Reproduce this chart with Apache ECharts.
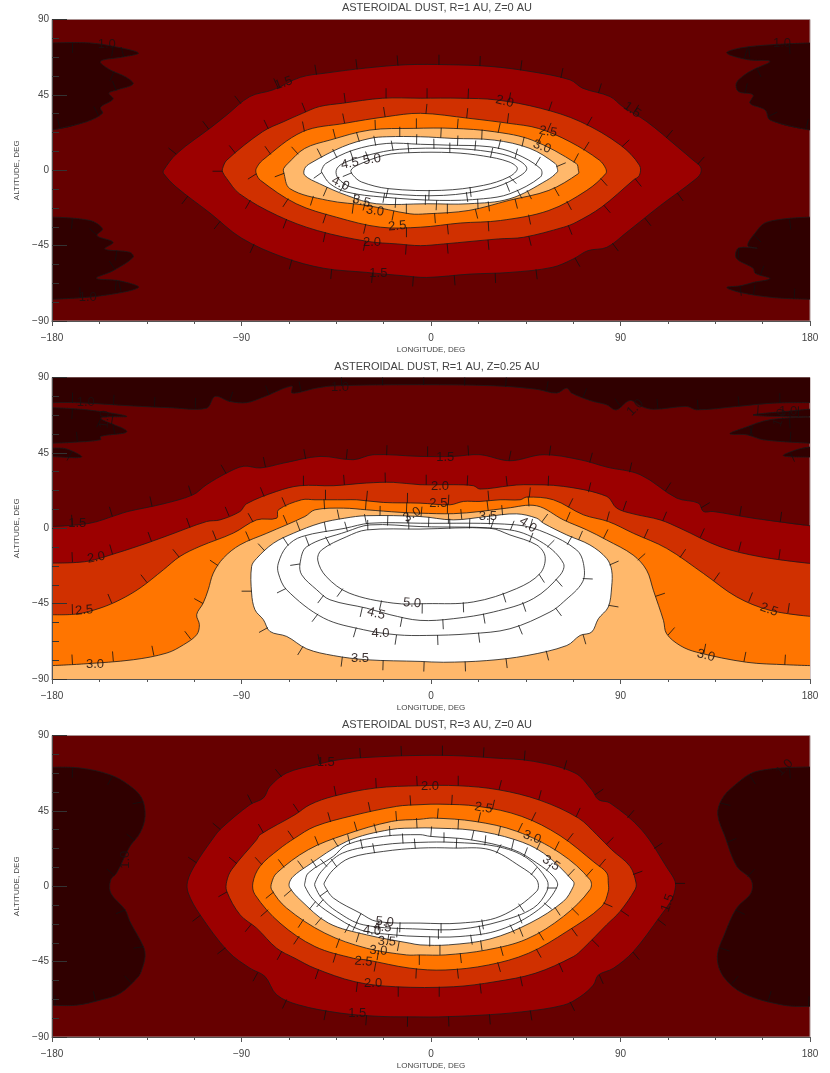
<!DOCTYPE html>
<html>
<head>
<meta charset="utf-8">
<title>Asteroidal dust</title>
<script src="https://cdn.jsdelivr.net/npm/echarts@6/dist/echarts.min.js"></script>
<style>
	html, body { margin: 0; padding: 0; background: #fff; }
	#chart { width: 830px; height: 1073px; }
</style>
</head>
<body>
<div id="chart"></div>
<script>
var lonTicks = [-180, -90, 0, 90, 180];
var altTicks = [-90, -45, 0, 45, 90];
var titles = ['ASTEROIDAL DUST, R=1 AU, Z=0 AU', 'ASTEROIDAL DUST, R=1 AU, Z=0.25 AU', 'ASTEROIDAL DUST, R=3 AU, Z=0 AU'];

// panel 1, contours as [lon, alt]
var p1Dark1 = [[-180,76],[-162,76],[-149,73.5],[-139,70],[-146,67.7],[-157,65],[-152.5,60],[-145,55.7],[-141.5,51.5],[-149,48],[-153,46],[-151,42.5],[-157,37.5],[-156,34],[-163.5,29],[-180,24]];
var p1Dark2 = [[-180,-28],[-162,-30],[-156,-35],[-158.7,-39],[-151,-43],[-155,-47],[-143,-49],[-141.5,-52],[-151,-60],[-159,-64.5],[-148,-66],[-139,-70],[-157,-75],[-180,-77]];
var p1Dark3 = [[180,76],[162.5,75],[147,73],[140.5,70],[150.5,66],[161,65],[153,60],[149,57],[145,52],[146,47],[153,45],[151.5,40],[158.7,36],[161,30],[180,24]];
var p1Dark4 = [[180,-28],[159.5,-31],[153,-39],[150.5,-45],[155,-46.5],[146,-46.5],[145,-52.5],[153,-58.5],[154,-61.5],[161,-64.7],[153,-67],[147,-69],[140.5,-70],[147,-73],[162.5,-76],[180,-77]];
var p1L15 = [[-127,0],[-120.7,10],[-104,26],[-97,33],[-86,44],[-75,48],[-62,55.5],[-50,58],[-31,61],[-11.5,63],[8,63],[28,62],[47,59],[66,54],[72,49],[85,44],[91,38],[102.5,29],[117,14],[124.5,6],[128,2],[128,-2],[125,-6],[109,-21],[99,-31],[93,-37],[83.5,-46],[74.5,-48],[67.5,-53],[57.5,-58],[37.5,-61],[18.5,-62],[-2,-64],[-13,-63],[-30.5,-61],[-51,-58.5],[-70,-52],[-90,-40.5],[-105,-25.5],[-121,-10],[-127,-2]];
var p1L20 = [[-99,1],[-97,6],[-80,23],[-70,29],[-61,34],[-53,38],[-42,40],[-23,43],[-5,43],[14,43],[31,42],[52,37],[71,29],[90,15],[99,3],[99,-3],[96,-6],[81,-22],[69,-31],[63,-34],[44,-40],[32,-41],[6,-44],[-5,-45],[-16,-44],[-30,-42.5],[-54,-36],[-73,-27],[-91,-14],[-97,-5],[-99,-1]];
var p1L25 = [[-83,1],[-80,6],[-61,23],[-41,28],[-21,32],[-5,34],[18,31],[37,28],[51,25],[66,17],[80,6],[83,1],[83,-2],[74,-12],[56,-24],[33,-30],[14,-31.5],[-5,-34],[-24,-34],[-45,-28],[-64,-20],[-81,-6],[-83,-2]];
var p1L30 = [[-70,1],[-68,4],[-60,13],[-48,18],[-29,24],[-8.5,25],[10.5,25],[30,23],[48,18],[69,4],[70,0],[70,-2],[56,-12],[37,-18],[18,-24],[-2,-26],[-10,-26],[-30.5,-21],[-49,-18],[-67,-11],[-70,-1]];
var p1L35 = [[-60,1],[-57.5,4],[-42,14],[-29,19],[-21,20],[-5,20],[10.5,19],[30,18],[47,13],[59,4],[60,1],[60,-1],[55,-6],[37.5,-17],[18,-20],[-2,-20],[-26,-20],[-40,-15],[-53,-8],[-60,-3]];
var p1L40 = [[-52,0],[-50,4],[-37,12],[-21,16],[-5,15.5],[8,15],[28,14],[40,10],[52,1],[52,-4],[37.5,-14],[25,-17],[4,-18],[-23,-16],[-40,-13],[-48,-8],[-52,-1]];
var p1L45 = [[-45,0],[-42,4],[-30,9],[-15,12.5],[10,13],[28,11],[40,7],[45.5,1],[40,-5],[28,-11],[6,-15],[-20,-14],[-38,-10],[-44,-5]];
var p1L50 = [[-38,0],[-35,3],[-22,9],[-10,10.5],[10,10.5],[25,8.5],[37,5],[41,1],[37,-4],[25,-9],[5,-12],[-20,-11],[-33,-7],[-37,-3]];
var p1Labels = [[-154,75,'1.0',0],[-70,52,'1.5',20],[-38.5,4,'4.5',10],[-28,6.5,'5.0',8],[95.5,36,'1.5',-35],[35,41,'2.0',-15],[55.6,23,'2.5',-10],[52.7,14,'3.0',-20],[166.7,76,'1.0',0],[-43,-8,'4.0',-25],[-33,-18.5,'3.5',-15],[-26.6,-24.3,'3.0',-8],[-16,-33.4,'2.5',5],[-28,-43.3,'2.0',0],[-25,-61.5,'1.5',0],[-163,-76,'1.0',0]];

// panel 2
var p2Top = [[-180,75],[-168.3,75],[-141.4,73],[-124,72],[-106.6,71.7],[-102.6,78.7],[-95.5,75.7],[-87.6,75],[-79.6,78.3],[-66,85],[-66,80.7],[-54.3,83.7],[-46.4,85],[-5.2,85.7],[31,85],[50,83],[59.7,80.7],[64.5,83.7],[66.8,80.7],[75.5,76.3],[83.4,73.7],[88,70.7],[94.5,76.3],[100,72.7],[105.6,71],[121.4,72.7],[126.2,70.7],[145.2,72.7],[162.6,74.7],[180,75]];
var p2Band1 = [[-180,72],[-163.5,70.7],[-144.5,66.8],[-157,65.8],[-144.5,57.8],[-157,54.8],[-157,52.8],[-171.5,51.2],[-180,50.8]];
var p2Band2 = [[-180,47.8],[-173,47.3],[-166,42.5],[-180,42.9]];
var p2Band3 = [[180,71.1],[168.9,69.8],[153,67.7],[162.6,66.8],[180,66.8]];
var p2Band4 = [[180,66.3],[161,64.8],[148.4,59.8],[142,56.4],[150,55.8],[157.9,52.8],[180,50.8]];
var p2Band5 = [[180,48.5],[173.7,46.9],[167.4,43.3],[180,42.5]];
var p2L15 = [[-180,1],[-162,3],[-149,8],[-144,10],[-127,14.6],[-113,20],[-106.6,26],[-97,33],[-89,37],[-81,36],[-70,38.9],[-52.7,42.9],[-37,40.9],[-27.4,43.9],[-5.2,42.9],[10.6,42.9],[23.3,43.9],[37.5,40.3],[53.4,43.9],[70.8,40.9],[83.5,36.5],[99.3,32],[116.7,18],[127,15],[129.4,10],[134,10],[153,6],[180,1.5]];
var p2L20 = [[-180,-20.8],[-163.5,-19.8],[-149.3,-14.8],[-135,-8.9],[-124,-3.9],[-106.6,4],[-100.2,5],[-90.7,10],[-87.6,14.6],[-73.3,22],[-62.2,25.4],[-46.4,25.4],[-30.6,27],[-17.9,27.4],[-5.2,26],[10.6,26],[20.1,25.4],[23.3,23.4],[37.5,25.4],[43.9,26],[62.9,25],[83.5,19],[88.2,12],[96,8.6],[108.8,5],[118.3,0],[137.3,-11],[156.3,-17],[180,-21]];
var p2L25 = [[-180,-51.6],[-168.3,-51.2],[-157.2,-47.7],[-147.7,-42.7],[-138.2,-35.7],[-127.1,-24.8],[-119.2,-16.8],[-109.7,-10.8],[-93.9,-2.9],[-82.8,5],[-73.3,6],[-72.5,11],[-61.4,17],[-55.1,17],[-40.8,17],[-35.3,17],[-22.6,15.4],[-5.2,15],[9,14],[15.4,16],[23.3,16],[32.8,17],[42.3,17],[45.5,18.6],[58.1,17],[72.4,8],[84.2,4],[96.1,-3],[111.9,-12],[129.4,-27],[145.2,-41],[161,-49],[180,-52.6]];
var p2L30 = [[-180,-82],[-165,-81],[-141.4,-78.5],[-125.5,-74.5],[-117.6,-69.6],[-111.3,-63.6],[-110,-57.6],[-111.3,-51.6],[-108.2,-44.7],[-105.8,-36.7],[-103.4,-26.8],[-98.6,-17.8],[-90.7,-9.9],[-78,-3],[-59.9,7],[-55.1,11],[-41.6,12],[-30.6,11],[-14.7,9.5],[-5.2,9],[10.6,8.7],[23.3,10],[36,12],[50.2,13.4],[62.9,5],[74,-1],[83.4,-7],[96,-16],[102.4,-25],[105.6,-37],[110.4,-55],[111.9,-63],[118.3,-70],[126.2,-74],[149.9,-80],[168.9,-81.5],[180,-82]];
var p2L35 = [[-85.2,-22.8],[-82.8,-18],[-74.9,-9],[-65.4,-3],[-52.7,3],[-41,6],[-30.6,7.5],[-5.2,7],[10.6,5],[26.5,7],[40.7,8.6],[50.2,6],[53.4,3],[64.5,-4],[75.5,-10],[83.4,-18],[85.8,-25],[85.8,-35],[84.2,-47],[79.5,-54],[76.3,-62],[70.8,-64],[64.5,-70],[45.5,-76],[26.5,-79],[5.9,-80],[-5.2,-79.5],[-30.6,-78.5],[-46.4,-76],[-59,-72],[-68.5,-64.6],[-76.5,-61.6],[-79.6,-54.6],[-83.6,-48.7],[-85.2,-38.7]];
var p2L40 = [[-72.5,-20.8],[-68.6,-11],[-61.4,-5],[-40.8,0],[-29,3],[-5,3],[40.7,2],[55,-3],[69.2,-13],[72.4,-21],[72,-32],[62.9,-44],[56.5,-50],[37.5,-60],[18.5,-63],[-2,-64],[-16.3,-63.6],[-32,-60.6],[-51,-53.6],[-68.6,-36.7],[-72.5,-26.8]];
var p2L45 = [[-62.2,-21],[-59,-11],[-40,-2],[-29,2],[-5.2,1],[37.5,-1],[53.4,-9],[62.9,-21],[61.3,-28],[48.6,-42],[29.6,-50],[10.6,-54],[-5.2,-55],[-19.5,-51.6],[-30.6,-47.7],[-48,-42.7],[-54.3,-36.7],[-61.4,-27.8]];
var p2L50 = [[-53.8,-19],[-52,-13],[-40,-5],[-30.6,-1],[-5.2,-0.5],[28,0],[37.5,-4],[50.2,-10],[54.2,-17],[51.8,-27],[40.7,-36],[20.1,-44],[-2,-45],[-18,-44.7],[-38.9,-38.7],[-49.8,-28.8]];
var p2Labels = [[-164,75,'1.0',0],[-155,65,'1.0',85],[-43.2,83.8,'1.0',0],[97,72,'1.0',45],[169.6,69.5,'1.0',0],[165.8,66,'1.0',70],[-168,2.7,'1.5',0],[6.8,42,'1.5',0],[4.3,25,'2.0',0],[-159,-17.5,'2.0',10],[3.5,14.6,'2.5',0],[-164.7,-49,'2.5',5],[160.5,-48.7,'2.5',-20],[-9,8,'3.0',30],[-159.6,-81,'3.0',0],[130.6,-76,'3.0',-15],[27,7,'3.5',0],[-33.7,-77.5,'3.5',0],[46,2,'4.0',-35],[-24,-62.6,'4.0',0],[-26,-51,'4.5',-15],[-9,-44.7,'5.0',-5]];

// panel 3
var p3Dark1 = [[-180,71],[-166.7,70.6],[-152.5,66.6],[-143.7,60.6],[-137.4,52.7],[-135.8,41.7],[-138.2,31.8],[-143,23.8],[-149.3,7.9],[-152.1,3.9],[-152.1,-4],[-145.3,-14],[-143,-21],[-136.6,-36],[-135.8,-42],[-137.4,-50],[-139,-54],[-147.7,-64],[-157.2,-68],[-168.3,-71],[-180,-71]];
var p3Dark2 = [[180,71.2],[154.7,68.6],[143.6,59.6],[138,51.7],[136.2,42.7],[139.6,29.8],[145.2,11.9],[152,3.9],[152,-4],[145.2,-13],[139.6,-28],[136,-42],[138.9,-54],[148.4,-64],[167.4,-71],[180,-71.7]];
var p3L15 = [[-115.6,3],[-112,12.9],[-103.4,28.8],[-99.4,34.8],[-86,48.7],[-79.6,52.7],[-76.5,59.6],[-68.6,67.6],[-54.3,72.6],[-43.2,75.6],[-29,77],[-10,78],[10.6,78],[29.6,76.6],[48.6,74.6],[68.4,67.6],[76.3,57.6],[79.5,51.7],[85,49.7],[100,33.7],[112.7,9.9],[115.9,3],[115.9,-2],[114.3,-8],[108.8,-18],[96.1,-39],[86.6,-49],[79.5,-53],[77.1,-59],[70.8,-66],[62.9,-71],[43.1,-75],[23.3,-77],[3.5,-78],[-5.2,-78],[-24.2,-77.7],[-43.2,-75.7],[-63,-70.8],[-73.3,-64.8],[-78.9,-53.8],[-86,-48.9],[-96.3,-39],[-109.7,-17],[-115.3,-4]];
var p3L20 = [[-97,3],[-94.7,9.9],[-82.8,27.8],[-81.2,30.8],[-64.6,42.7],[-57.5,48.7],[-46.4,53.7],[-26.6,58.6],[-5.2,60],[13,60],[32,57.6],[51.8,51.3],[70,40.7],[78.7,30.8],[85.8,21.8],[94.5,11.9],[97.4,1.9],[96.9,-2],[89.8,-15],[83.4,-23],[72.4,-37],[67.6,-42],[49.4,-52],[30.4,-57],[10.6,-60],[-16.8,-60],[-36.1,-57],[-55.1,-49],[-64.6,-43],[-73.3,-37],[-82.8,-25],[-90.7,-17],[-97,-3]];
var p3L25 = [[-84.6,2],[-81.2,11.9],[-72.5,21.8],[-64.6,28.8],[-55.1,35.7],[-37.7,42],[-16.3,47.7],[-5.2,48.7],[4.3,49],[22.5,47.7],[43.1,41.7],[61.3,30.2],[77.9,13.9],[83.5,7.9],[84.2,1.9],[84.2,-3],[81.1,-12],[64.5,-27],[46.3,-40],[27.3,-47],[6.7,-50],[-10,-48.9],[-30.6,-44],[-36.9,-43],[-55.1,-36],[-71.7,-22],[-83.6,-5]];
var p3L30 = [[-75.7,2],[-73.3,7.9],[-58.3,21.8],[-40.8,30.8],[-18.7,38.7],[-5.2,40],[1.1,40.7],[20.9,38.7],[40.7,32.8],[61.3,19.8],[75.5,3.9],[75.5,-2],[62.9,-18],[45.5,-31.5],[26.5,-38],[6.7,-41],[-5.2,-41],[-11.6,-41],[-30.6,-37],[-50.4,-28],[-68.6,-13],[-75.7,-2]];
var p3L35 = [[-67.3,2],[-65.4,5.9],[-59,11.9],[-40,26.8],[-19.5,33.8],[-5.2,34.8],[-0.5,34.8],[20,33.4],[39.9,27.8],[53.4,19.8],[67.6,2.9],[67.6,-0.1],[62.9,-9],[47,-22],[28,-31.5],[8.3,-35],[-5.2,-35],[-10,-34],[-30.6,-29],[-48.7,-22],[-62.2,-8],[-67,-1]];
var p3L40 = [[-59.9,2],[-58.3,7.9],[-46.4,17.8],[-40,24.8],[-22.6,29.8],[-5.2,30.8],[-0.5,29.8],[18.5,27.8],[39.1,21.8],[50.2,13.9],[58.1,5.9],[60,0],[51,-14],[32.8,-26],[13.8,-30],[-5.2,-30],[-17.9,-29],[-33.7,-26],[-48,-16],[-55.9,-8],[-59.9,0]];
var p3L45 = [[-55.1,2],[-52,8.9],[-42,19.8],[-22.6,24.8],[-5.2,26.2],[10.6,26.2],[31.2,23.8],[45.5,16.9],[55,3.9],[55,-3],[48.6,-13],[32.8,-21],[13.8,-25.6],[-5.2,-25.6],[-32.2,-23],[-44.8,-15],[-52,-7],[-55.1,0]];
var p3L50 = [[-50.7,2],[-46.4,9.9],[-38.5,16.9],[-22.6,20.8],[-5.2,22.8],[10.6,22.8],[28,21.8],[42.3,11.9],[50.2,3.9],[50.2,-3],[32.8,-18],[13.8,-22],[-5.2,-22],[-25.8,-21],[-33.7,-16],[-46.4,-7],[-50.4,0]];
var p3Labels = [[-145,15.8,'1.0',90],[-50,74,'1.5',0],[-0.5,59.6,'2.0',0],[25,46.7,'2.5',-10],[48,29.3,'3.0',-20],[57,13.8,'3.5',-35],[168,70.8,'1.0',45],[112.5,-10,'1.5',70],[-22,-21.4,'5.0',-5],[-28,-26.6,'4.0',-5],[-23,-24.5,'4.5',-5],[-21,-33,'3.5',-3],[-25,-38.5,'3.0',-3],[-32,-45,'2.5',-5],[-27.5,-58,'2.0',0],[-35,-76,'1.5',0]];

var levelFill = { '1.0': '#300000', '1.5': '#9c0000', '2.0': '#d03000', '2.5': '#ff7500', '3.0': '#ffb86b', '3.5': '#ffffff' };

// level, points, how the line ends: 'loop' closes on itself, 'top' / 'bottom' fill to that edge, 'edge' fills across the side
var panels = [
	{ top: 19.5, base: '#660000', labels: p1Labels, contours: [
		['1.0', p1Dark1, 'edge'], ['1.0', p1Dark2, 'edge'], ['1.0', p1Dark3, 'edge'], ['1.0', p1Dark4, 'edge'],
		['1.5', p1L15, 'loop'], ['2.0', p1L20, 'loop'], ['2.5', p1L25, 'loop'], ['3.0', p1L30, 'loop'],
		['3.5', p1L35, 'loop'], ['4.0', p1L40, 'loop'], ['4.5', p1L45, 'loop'], ['5.0', p1L50, 'loop']
	] },
	{ top: 377.5, base: '#660000', labels: p2Labels, contours: [
		['1.0', p2Top, 'top'], ['1.0', p2Band1, 'edge'], ['1.0', p2Band2, 'edge'], ['1.0', p2Band3, 'edge'], ['1.0', p2Band4, 'edge'], ['1.0', p2Band5, 'edge'],
		['1.5', p2L15, 'bottom'], ['2.0', p2L20, 'bottom'], ['2.5', p2L25, 'bottom'], ['3.0', p2L30, 'bottom'],
		['3.5', p2L35, 'loop'], ['4.0', p2L40, 'loop'], ['4.5', p2L45, 'loop'], ['5.0', p2L50, 'loop']
	] },
	{ top: 735.5, base: '#660000', labels: p3Labels, contours: [
		['1.0', p3Dark1, 'edge'], ['1.0', p3Dark2, 'edge'],
		['1.5', p3L15, 'loop'], ['2.0', p3L20, 'loop'], ['2.5', p3L25, 'loop'], ['3.0', p3L30, 'loop'],
		['3.5', p3L35, 'loop'], ['4.0', p3L40, 'loop'], ['4.5', p3L45, 'loop'], ['5.0', p3L50, 'loop']
	] }
];

var tickGap = 41, tickLen = 10, smoothing = 0.35;

// downhill ticks along a contour, measured on screen
function contourTicks(pts, closedPts, level) {
	var area = 0, i;
	for (i = 0; i < closedPts.length; i++) {
		var a = closedPts[i], b = closedPts[(i + 1) % closedPts.length];
		area += a[0] * b[1] - b[0] * a[1];
	}
	var sign = area > 0 ? 1 : -1;
	if (level == '1.0') sign = -sign;
	var out = [], run = tickGap / 2;
	for (i = 0; i < pts.length - 1; i++) {
		var p = pts[i], q = pts[i + 1];
		var dx = q[0] - p[0], dy = q[1] - p[1];
		var len = Math.sqrt(dx * dx + dy * dy);
		if (!len) continue;
		while (run <= len) {
			var x = p[0] + dx * run / len, y = p[1] + dy * run / len;
			out.push({
				type: 'line',
				silent: true,
				shape: { x1: x, y1: y, x2: x + sign * dy / len * tickLen, y2: y - sign * dx / len * tickLen },
				style: { stroke: '#111', lineWidth: 0.8 }
			});
			run += tickGap;
		}
		run -= len;
	}
	return out;
}

function contourSeries(panel, idx) {
	return {
		type: 'custom',
		xAxisIndex: idx,
		yAxisIndex: idx,
		coordinateSystem: 'cartesian2d',
		clip: true,
		silent: true,
		z: 2,
		data: panel.contours.map(function(c) { return c[1][0]; }),
		renderItem: function(params, api) {
			var c = panel.contours[params.dataIndex];
			var line = c[1].map(function(d) { return api.coord(d); });
			var children = [];
			var fill = levelFill[c[0]];
			var stroked = line;
			var fillPts = line;
			if (c[2] == 'loop') {
				stroked = line.concat([line[0]]);
				children.push({ type: 'polygon', silent: true, shape: { points: line, smooth: smoothing }, style: { fill: fill || null, stroke: '#1a1a1a', lineWidth: 0.8 } });
			} else {
				// run the fill past the frame, the clip cuts it square
				var first = c[1][0], last = c[1][c[1].length - 1];
				var edgeAlt = c[2] == 'top' ? 110 : -110;
				fillPts = [api.coord([first[0] * 1.12, first[1]])].concat(line, [api.coord([last[0] * 1.12, last[1]])]);
				if (c[2] != 'edge') {
					fillPts.push(api.coord([200, edgeAlt]), api.coord([-200, edgeAlt]));
				}
				children.push({ type: 'polygon', silent: true, shape: { points: fillPts, smooth: smoothing }, style: { fill: fill } });
				children.push({ type: 'polyline', silent: true, shape: { points: line, smooth: smoothing }, style: { fill: null, stroke: '#1a1a1a', lineWidth: 0.8 } });
			}
			return { type: 'group', children: children.concat(contourTicks(stroked, fillPts, c[0])) };
		}
	};
}

function labelSeries(panel, idx) {
	return {
		type: 'custom',
		xAxisIndex: idx,
		yAxisIndex: idx,
		coordinateSystem: 'cartesian2d',
		clip: false,
		silent: true,
		z: 3,
		data: panel.labels.map(function(l) { return [l[0], l[1]]; }),
		renderItem: function(params, api) {
			var l = panel.labels[params.dataIndex];
			var pt = api.coord([l[0], l[1]]);
			return {
				type: 'text',
				silent: true,
				x: pt[0],
				y: pt[1],
				rotation: l[3] * Math.PI / 180,
				style: { text: l[2], fill: '#1c1010', opacity: 0.85, font: '13px "Liberation Sans"', align: 'center', verticalAlign: 'middle' }
			};
		}
	};
}

function tickText(v) {
	return String(v).replace('-', '\u2212');
}

var option = {
	animation: false,
	backgroundColor: '#fff',
	textStyle: { fontFamily: 'Liberation Sans' },
	title: panels.map(function(p, i) {
		return {
			text: titles[i],
			left: 432,
			top: p.top - (i == 0 ? 22 : 21),
			textAlign: 'center',
			textStyle: { fontSize: 11, fontWeight: 'normal', color: '#444', fontFamily: 'Liberation Sans' }
		};
	}),
	grid: panels.map(function(p) {
		return { left: 52, width: 758, top: p.top, height: 301.5, show: true, backgroundColor: p.base, borderWidth: 1, borderColor: '#a89090' };
	}),
	xAxis: panels.map(function(p, i) {
		return {
			type: 'value',
			gridIndex: i,
			min: lonTicks[0],
			max: lonTicks[lonTicks.length - 1],
			interval: lonTicks[1] - lonTicks[0],
			z: 10,
			name: 'LONGITUDE, DEG',
			nameLocation: 'middle',
			nameGap: 25,
			nameTextStyle: { fontSize: 8, color: '#444' },
			axisLine: { onZero: false, lineStyle: { color: '#555', width: 1 } },
			axisTick: { length: 5, lineStyle: { color: '#555' } },
			minorTick: { show: true, splitNumber: 4, length: 3, lineStyle: { color: '#555' } },
			splitLine: { show: false },
			minorSplitLine: { show: false },
			axisLabel: { margin: 12, fontSize: 10, color: '#444', formatter: tickText }
		};
	}),
	yAxis: panels.map(function(p, i) {
		return {
			type: 'value',
			gridIndex: i,
			min: altTicks[0],
			max: altTicks[altTicks.length - 1],
			interval: altTicks[1] - altTicks[0],
			z: 10,
			name: 'ALTITUDE, DEG',
			nameLocation: 'middle',
			nameGap: 25,
			nameTextStyle: { fontSize: 8, color: '#444' },
			axisLine: { onZero: false, lineStyle: { color: '#555', width: 1 } },
			axisTick: { inside: true, length: 15, lineStyle: { color: '#333' } },
			minorTick: { show: true, splitNumber: 4, length: 7, lineStyle: { color: '#333' } },
			splitLine: { show: false },
			minorSplitLine: { show: false },
			axisLabel: { margin: 3, fontSize: 10, color: '#444', formatter: tickText }
		};
	}),
	series: []
};

panels.forEach(function(p, i) {
	option.series.push(contourSeries(p, i));
	option.series.push(labelSeries(p, i));
});

var chart = echarts.init(document.getElementById('chart'), null, { renderer: 'canvas' });
chart.setOption(option);
</script>
</body>
</html>
